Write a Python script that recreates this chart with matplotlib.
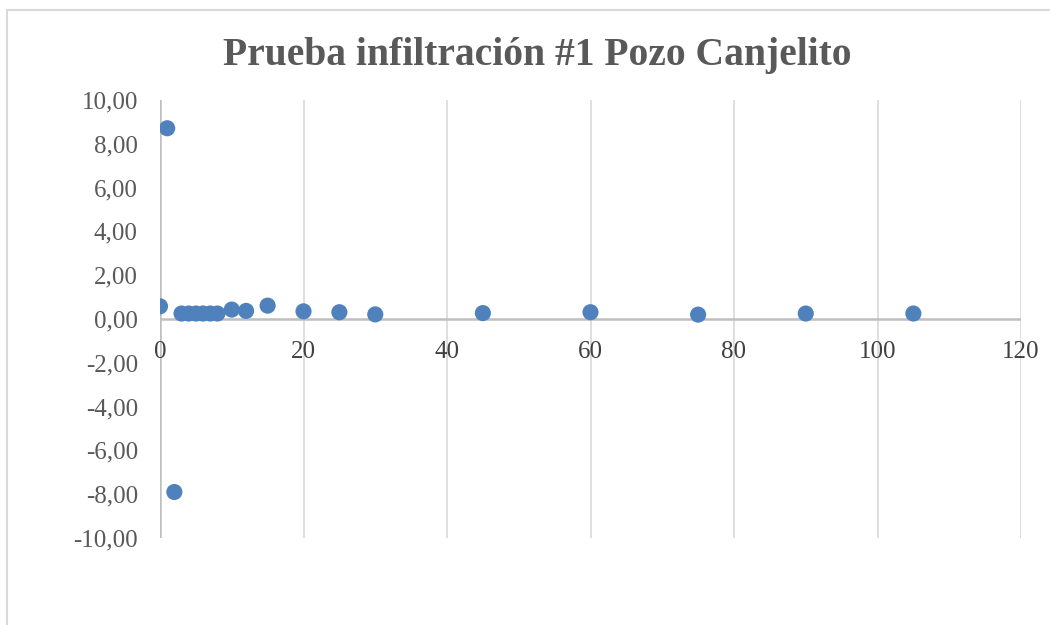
import matplotlib
matplotlib.use("Agg")
import matplotlib.pyplot as plt
from matplotlib.patches import Rectangle

# Infiltration test readings: elapsed time (min) vs. measured value
tiempo = [0, 1, 2, 3, 4, 5, 6, 7, 8, 10, 12, 15, 20, 25, 30, 45, 60, 75, 90, 105]
valor = [0.58, 8.71, -7.90, 0.25, 0.25, 0.25, 0.25, 0.25, 0.25, 0.43, 0.37,
         0.61, 0.35, 0.31, 0.21, 0.27, 0.31, 0.20, 0.25, 0.25]

x_ticks = [0, 20, 40, 60, 80, 100, 120]
y_ticks = [10, 8, 6, 4, 2, 0, -2, -4, -6, -8, -10]
titulo = "Prueba infiltración #1 Pozo Canjelito"

W, H = 1050, 625
fig = plt.figure(figsize=(W / 100, H / 100), dpi=100)
fig.patch.set_facecolor("white")

# Chart frame (top and left edges visible)
fig.add_artist(Rectangle((7 / W, -0.05), 1.2, (H - 10) / H + 0.05,
                         transform=fig.transFigure, fill=False,
                         edgecolor="#d9d9d9", linewidth=1.5))

left, right, top, bottom = 160, 1021, 100, 538
ax = fig.add_axes([left / W, 1 - bottom / H, (right - left) / W, (bottom - top) / H])
ax.set_xlim(0, 120)
ax.set_ylim(-10, 10)

for s in ax.spines.values():
    s.set_visible(False)

# Vertical gridlines
for xv in x_ticks[1:]:
    ax.axvline(xv, color="#d9d9d9", linewidth=1.2, zorder=0)
# Axis lines through the origin
ax.axvline(0, color="#bfbfbf", linewidth=1.8, zorder=1)
ax.axhline(0, color="#bfbfbf", linewidth=1.8, zorder=1)

ax.scatter(tiempo, valor, s=135, color="#4f81bd", edgecolors="none", zorder=3)

ax.set_xticks([])
ax.set_yticks(y_ticks)
ax.set_yticklabels([f"{v:.2f}".replace(".", ",") for v in y_ticks],
                   fontfamily="Liberation Serif", fontsize=18, color="#595959")
ax.tick_params(axis="y", length=0, pad=16)

# x labels sit just under the horizontal axis line
for xv in x_ticks:
    ax.text(xv, -1.5, str(xv), ha="center", va="center",
            fontfamily="Liberation Serif", fontsize=18, color="#404040")

fig.text(537 / W, 1 - 55 / H, titulo, ha="center", va="center",
         fontfamily="Liberation Serif", fontweight="bold", fontsize=28.5,
         color="#595959")

fig.savefig("out.png", dpi=100, facecolor="white")
